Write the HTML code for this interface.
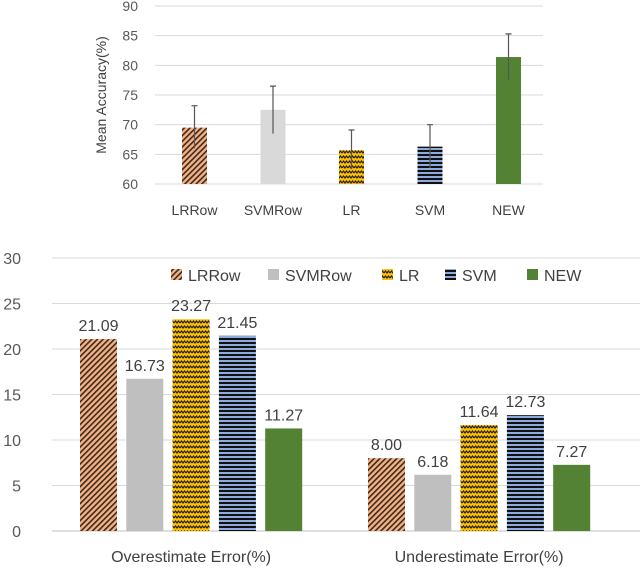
<!DOCTYPE html>
<html><head><meta charset="utf-8"><style>
body{margin:0;background:#fff;}
svg{display:block;font-family:"Liberation Sans",sans-serif;}
</style></head><body>
<svg width="640" height="569" viewBox="0 0 640 569">
<defs>
<pattern id="pLRRow" width="4" height="4" patternUnits="userSpaceOnUse" patternTransform="rotate(45)"><rect width="4" height="4" fill="#f4b183"/><rect width="1.6" height="4" fill="#3a2a20"/></pattern>
<pattern id="pLR" width="6" height="5" patternUnits="userSpaceOnUse"><rect width="6" height="5" fill="#ffc000"/><path d="M0 3 L1.5 1 L3 3 L4.5 1 L6 3" stroke="#222" stroke-width="1.2" fill="none"/></pattern>
<pattern id="pSVM" width="4" height="4" patternUnits="userSpaceOnUse"><rect width="4" height="4" fill="#8faadc"/><rect y="2" width="4" height="2" fill="#111"/></pattern>
</defs>
<g id="top"></g>
<g id="bot"></g>
</svg>
<script>
const NS="http://www.w3.org/2000/svg";
function mk(p,t,a,txt){const e=document.createElementNS(NS,t);for(const k in a)e.setAttribute(k,a[k]);if(txt!==undefined)e.textContent=txt;p.appendChild(e);return e;}
const methods=["LRRow","SVMRow","LR","SVM","NEW"];
const fills=["url(#pLRRow)","#d9d9d9","url(#pLR)","url(#pSVM)","#548235"];
const legFills=["url(#pLRRow)","#bfbfbf","url(#pLR)","url(#pSVM)","#548235"];
const accValues=[69.5,72.5,65.7,66.3,81.4];
const accErrHigh=[73.2,76.5,69.1,70.0,85.3];
const accErrLow=[66.0,68.5,62.5,62.7,77.6];
const accTicks=[60,65,70,75,80,85,90];
const errGroups=["Overestimate Error(%)","Underestimate Error(%)"];
const overValues=[21.09,16.73,23.27,21.45,11.27];
const underValues=[8.00,6.18,11.64,12.73,7.27];
const errTicks=[0,5,10,15,20,25,30];

// top chart
const T=document.getElementById('top');
const ty=v=>184-(v-60)*(184-6)/30;
accTicks.forEach(v=>{
 const l=mk(T,'line',{x1:155,x2:543,y1:ty(v),y2:ty(v),stroke:'#d9d9d9','stroke-width':1});
 
 const t=mk(T,'text',{x:138,y:ty(v)+5,'text-anchor':'end','font-size':14,fill:'#595959'},v);
 
});
const tx=i=>194.5+i*78.5;
methods.forEach((m,i)=>{
 const b=mk(T,'rect',{x:tx(i)-12.5,y:ty(accValues[i]),width:25,height:184-ty(accValues[i]),fill:fills[i]});
 
 const e=mk(T,'path',{d:`M${tx(i)} ${ty(accErrHigh[i])}V${ty(accErrLow[i])}M${tx(i)-3} ${ty(accErrHigh[i])}h6`,stroke:'#555','stroke-width':1.2,fill:'none'});
 
 const t=mk(T,'text',{x:tx(i),y:215,'text-anchor':'middle','font-size':14,fill:'#404040'},m);
 
});
const yt=mk(T,'text',{x:0,y:0,transform:'translate(106,95) rotate(-90)','text-anchor':'middle','font-size':14,fill:'#404040'},'Mean Accuracy(%)');


// bottom chart
const B=document.getElementById('bot');
const by=v=>531-v*(531-258)/30;
errTicks.forEach(v=>{
 const l=mk(B,'line',{x1:52,x2:640,y1:by(v),y2:by(v),stroke:v===0?'#bfbfbf':'#d9d9d9','stroke-width':1});
 
 const t=mk(B,'text',{x:21,y:by(v)+6,'text-anchor':'end','font-size':16,fill:'#595959'},v);
 
});
const bx=(g,i)=>80+g*288+i*46.3;
[overValues,underValues].forEach((vals,g)=>{
 vals.forEach((v,i)=>{
  const r=mk(B,'rect',{x:bx(g,i),y:by(v),width:37,height:531-by(v),fill:fills[i]==='#d9d9d9'?'#bfbfbf':fills[i]});
  
  const t=mk(B,'text',{x:bx(g,i)+18.5,y:by(v)-8,'text-anchor':'middle','font-size':16,fill:'#404040'},v.toFixed(2));
  
 });
 const gl=mk(B,'text',{x:bx(g,2)+18.5,y:562,'text-anchor':'middle','font-size':16,fill:'#404040'},errGroups[g]);
 
});
const legX=[171,268,382,445,527];
methods.forEach((m,i)=>{
 const r=mk(B,'rect',{x:legX[i],y:269,width:11,height:11,fill:legFills[i]});
 
 const t=mk(B,'text',{x:legX[i]+17,y:281,'font-size':16,fill:'#404040'},m);
 
});
</script>
</body></html>
